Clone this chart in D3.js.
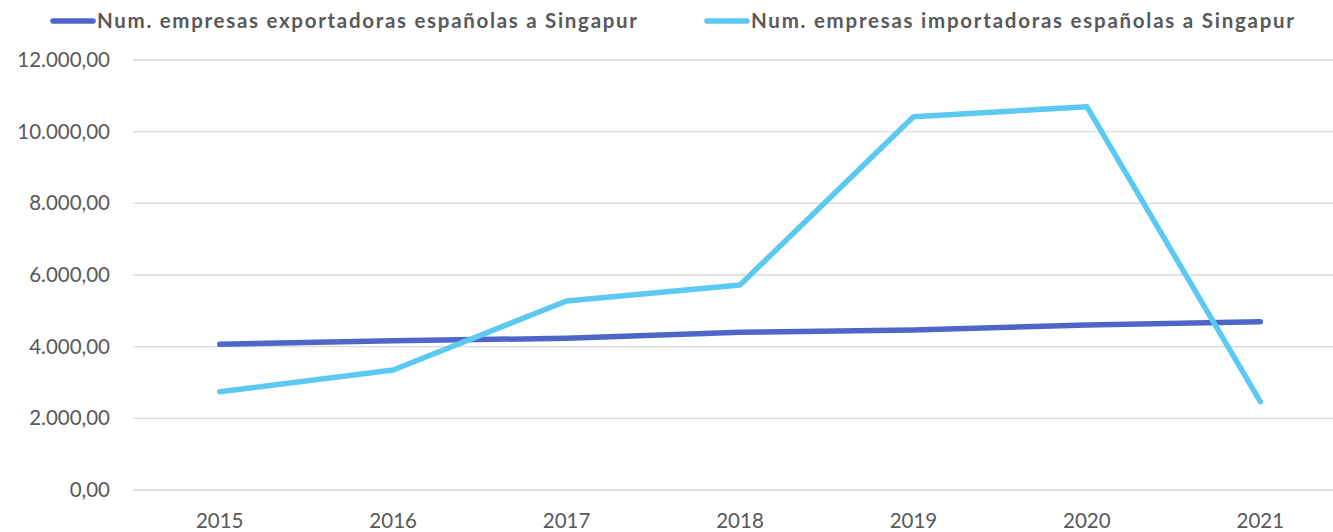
<!DOCTYPE html>
<html>
<head>
<meta charset="utf-8">
<script src="https://cdn.jsdelivr.net/npm/d3@7"></script>
<style>
  body { margin: 0; background: #fff; }
  svg { display: block; font-family: Lato, "Open Sans", sans-serif; }
</style>
</head>
<body>
<div id="chart"></div>
<script>
// datos
const years = ['2015', '2016', '2017', '2018', '2019', '2020', '2021'];
const exportadoras = [4066, 4166, 4233, 4400, 4465, 4605, 4698];
const importadoras = [2743, 3349, 5274, 5721, 10418, 10697, 2465];
const yTicks = [0, 2000, 4000, 6000, 8000, 10000, 12000];
const seriesNames = [
    'Num. empresas exportadoras españolas a Singapur',
    'Num. empresas importadoras españolas a Singapur'
];
const colors = ['#4F66C9', '#5BC9F1'];

const width = 1333;
const height = 532;
const marginLeft = 133;
const marginRight = -14;
const marginTop = 60;
const marginBottom = 42;

const svg = d3.select('#chart').append('svg')
    .attr('width', width)
    .attr('height', height);

const x = d3.scaleBand()
    .domain(years)
    .range([marginLeft, width - marginRight]);

const y = d3.scaleLinear()
    .domain([0, 12000])
    .range([height - marginBottom, marginTop]);

// formato 12.000,00
const fmt = d => d3.format(',.2f')(d).replace(/,/g, '#').replace('.', ',').replace(/#/g, '.');

// lineas de cuadricula
svg.selectAll('.grid')
    .data(yTicks)
    .enter()
    .append('line')
    .attr('x1', marginLeft)
    .attr('x2', width - marginRight)
    .attr('y1', d => y(d))
    .attr('y2', d => y(d))
    .style('stroke', '#d9d9d9')
    .style('stroke-width', 1.3);

// etiquetas eje Y
svg.selectAll('.y-label')
    .data(yTicks)
    .enter()
    .append('text')
    .attr('x', 110)
    .attr('y', d => y(d) + 7)
    .attr('text-anchor', 'end')
    .text(d => fmt(d))
    .style('fill', '#595959')
    .style('font-size', '20.5px');

// etiquetas eje X
svg.selectAll('.x-label')
    .data(years)
    .enter()
    .append('text')
    .attr('x', d => x(d) + x.bandwidth() / 2)
    .attr('y', 528)
    .attr('text-anchor', 'middle')
    .text(d => d)
    .style('fill', '#595959')
    .style('font-size', '20.5px');

const line = d3.line()
    .x((d, i) => x(years[i]) + x.bandwidth() / 2)
    .y(d => y(d));

[exportadoras, importadoras].forEach((serie, i) => {
    svg.append('path')
        .datum(serie)
        .attr('d', line)
        .style('fill', 'none')
        .style('stroke', colors[i])
        .style('stroke-width', 5.5)
        .style('stroke-linecap', 'round')
        .style('stroke-linejoin', 'round');
});

// leyenda
const legendX = [53, 707];
const legendW = [540, 543];
seriesNames.forEach((name, i) => {
    svg.append('line')
        .attr('x1', legendX[i])
        .attr('x2', legendX[i] + 40)
        .attr('y1', 21)
        .attr('y2', 21)
        .style('stroke', colors[i])
        .style('stroke-width', 5.5)
        .style('stroke-linecap', 'round');
    svg.append('text')
        .attr('x', legendX[i] + 44)
        .attr('y', 28)
        .attr('textLength', legendW[i])
        .attr('lengthAdjust', 'spacing')
        .text(name)
        .style('fill', '#595959')
        .style('font-size', '20.5px')
        .style('font-weight', '700');
});
</script>
</body>
</html>
